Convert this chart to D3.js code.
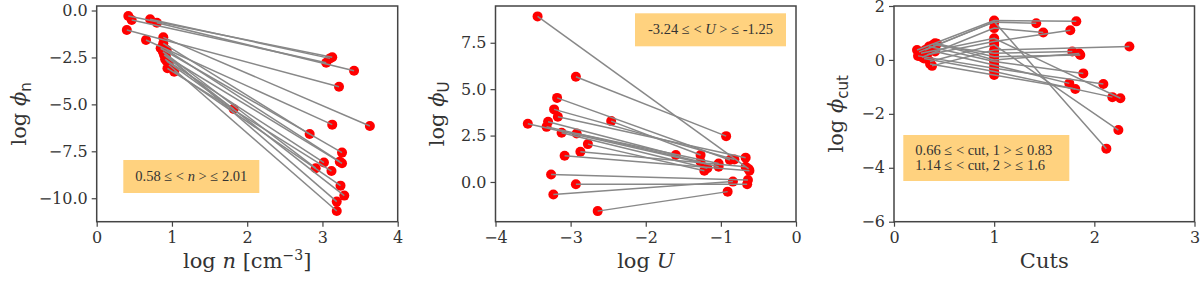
<!DOCTYPE html>
<meta charset="utf-8">
<script src="https://d3js.org/d3.v7.min.js"></script>
<style>
  body { margin: 0; background: #fff; }
  .tick text { font-family: "DejaVu Serif"; font-size: 16px; fill: #333; }
  .lab { font-family: "DejaVu Serif"; fill: #333; }
  .note { font-family: "Liberation Serif"; font-size: 14.5px; fill: #333; }
</style>
<svg id="chart" width="1200" height="281"></svg>
<script>
// panel 1: log n -> log phi_n  (start point, end point)
var nStart = [[0.42,-0.29],[0.465,-0.51],[0.71,-0.47],[0.80,-0.65],[0.40,-1.04],[0.655,-1.57],
  [0.885,-1.43],[0.885,-1.75],[0.85,-2.01],[0.93,-2.10],[0.895,-2.37],[0.91,-2.60],[0.94,-3.08],
  [1.03,-3.26],[0.90,-2.25],[0.92,-2.45],[0.88,-2.20],[0.96,-2.90],[0.93,-2.70]];
var nEnd = [[3.13,-2.49],[3.05,-2.78],[3.10,-2.55],[3.42,-3.21],[3.22,-4.06],[3.13,-6.08],
  [3.63,-6.15],[2.83,-6.58],[3.26,-7.57],[3.23,-8.05],[3.26,-8.14],[3.02,-8.10],[3.12,-8.55],
  [3.24,-9.33],[2.91,-8.40],[3.29,-9.86],[3.19,-10.18],[3.19,-10.68],[1.82,-5.25]];

// panel 2: log U -> log phi_U
var uStart = [[-3.44,8.92],[-2.93,5.67],[-3.18,4.53],[-3.22,3.91],[-3.17,3.51],[-2.46,3.28],
  [-3.57,3.14],[-3.30,3.24],[-3.32,2.97],[-3.12,2.65],[-2.92,2.61],[-2.77,2.04],[-2.87,1.63],
  [-3.08,1.41],[-3.26,0.40],[-2.93,-0.12],[-3.23,-0.67],[-2.64,-1.57]];
var uEnd = [[-0.63,0.70],[-0.93,2.47],[-0.88,1.18],[-0.82,1.21],[-0.67,1.31],[-1.27,1.45],
  [-1.03,0.82],[-1.60,1.45],[-1.27,1.09],[-1.18,0.74],[-1.03,1.00],[-1.22,0.61],[-0.67,0.82],
  [-0.62,0.61],[-0.64,0.11],[-0.65,-0.12],[-0.84,0.02],[-0.91,-0.52]];

// panel 3: cuts -> log phi_cut  (first cut, cut = 1, second cut)
var cutA = [[0.23,0.37],[0.25,0.30],[0.28,0.10],[0.31,0.37],[0.33,0.19],[0.36,-0.06],[0.38,-0.22],
  [0.39,0.56],[0.41,0.62],[0.43,0.60],[0.35,0.50],[0.41,0.31],[0.24,0.15],[0.30,0.05],[0.36,-0.15],[0.27,0.25]];
var cutB = [[1,1.46],[1,1.40],[1,1.18],[1,1.42],[1,0.68],[1,0.56],[1,0.37],[1,0.25],[1,0.12],
  [1,0.00],[1,-0.06],[1,-0.19],[1,-0.31],[1,-0.43],[1,-0.56],[1,0.80]];
var cutC = [[1.82,1.43],[1.42,1.36],[1.49,1.02],[2.12,-3.29],[1.76,1.10],[2.24,-2.60],[2.35,0.50],
  [1.78,0.31],[1.86,0.18],[1.85,0.24],[1.89,-0.50],[1.75,-0.87],[2.09,-0.89],[2.18,-1.38],[1.81,-1.08],[2.26,-1.42]];

var xTicks1 = [0, 1, 2, 3, 4], yTicks1 = [0, -2.5, -5, -7.5, -10];
var xTicks2 = [-4, -3, -2, -1, 0], yTicks2 = [0, 2.5, 5, 7.5];
var xTicks3 = [0, 1, 2, 3], yTicks3 = [2, 0, -2, -4, -6];

var svg = d3.select("#chart");
var yTop = 6, yBottom = 221.7;

var panels = [
  { x0: 96.7, x1: 397.7, xd: [0, 4], yd: [-11.25, 0.24], xt: xTicks1, yt: yTicks1, yf: d3.format(".1f"),
    lines: nStart.map(function (d, i) { return [d, nEnd[i]]; }),
    box: [123.3, 160, 136, 33], ylab: ["ϕ", "n"], ylx: 26, xlab: "n" },
  { x0: 495.5, x1: 796, xd: [-4, 0], yd: [-2.14, 9.48], xt: xTicks2, yt: yTicks2, yf: d3.format(".1f"),
    lines: uStart.map(function (d, i) { return [d, uEnd[i]]; }),
    box: [635, 13.3, 151, 33], ylab: ["ϕ", "U"], ylx: 444, xlab: "U" },
  { x0: 894, x1: 1194.5, xd: [0, 3], yd: [-6, 2], xt: xTicks3, yt: yTicks3, yf: d3.format("d"),
    lines: cutA.map(function (d, i) { return [d, cutB[i], cutC[i]]; }),
    box: [903.3, 135, 166, 46], ylab: ["ϕ", "cut"], ylx: 843, xlab: "Cuts" }
];

panels.forEach(function (p, k) {
  var x = d3.scaleLinear().domain(p.xd).range([p.x0, p.x1]);
  var y = d3.scaleLinear().domain(p.yd).range([yBottom, yTop]);
  var g = svg.append("g");

  // annotation box
  g.append("rect").attr("x", p.box[0]).attr("y", p.box[1]).attr("width", p.box[2]).attr("height", p.box[3])
    .attr("fill", "#ffd27f");

  // dots first, lines over them
  var pts = [].concat.apply([], p.lines);
  g.selectAll("circle").data(pts).enter().append("circle")
    .attr("cx", function (d) { return x(d[0]); })
    .attr("cy", function (d) { return y(d[1]); })
    .attr("r", 5).attr("fill", "#ff0000");
  var line = d3.line().x(function (d) { return x(d[0]); }).y(function (d) { return y(d[1]); });
  g.selectAll("path.l").data(p.lines).enter().append("path")
    .attr("class", "l").attr("d", line)
    .attr("fill", "none").attr("stroke", "#888").attr("stroke-width", 1.5);

  // axes
  var ax = g.append("g").attr("transform", "translate(0," + yBottom + ")")
    .call(d3.axisBottom(x).tickValues(p.xt).tickSize(5).tickPadding(5).tickFormat(d3.format("d")));
  var ay = g.append("g").attr("transform", "translate(" + p.x0 + ",0)")
    .call(d3.axisLeft(y).tickValues(p.yt).tickSize(5).tickPadding(4).tickFormat(p.yf));
  [ax, ay].forEach(function (a) {
    a.select(".domain").remove();
    a.selectAll("line").attr("stroke", "#444").attr("stroke-width", 1.2);
  });
  g.append("rect").attr("x", p.x0).attr("y", yTop).attr("width", p.x1 - p.x0).attr("height", yBottom - yTop)
    .attr("fill", "none").attr("stroke", "#444").attr("stroke-width", 1.5);

  // x label
  var xl = g.append("text").attr("class", "lab").attr("x", (p.x0 + p.x1) / 2).attr("y", 268)
    .attr("text-anchor", "middle").style("font-size", "21px");
  if (p.xlab === "Cuts") {
    xl.text("Cuts");
  } else {
    xl.append("tspan").text("log ");
    xl.append("tspan").style("font-style", "italic").text(p.xlab);
    if (p.xlab === "n") {
      xl.append("tspan").text(" [cm");
      xl.append("tspan").attr("dy", -8).style("font-size", "14px").text("−3");
      xl.append("tspan").attr("dy", 8).text("]");
    }
  }

  // y label
  var yl = g.append("text").attr("class", "lab")
    .attr("transform", "translate(" + p.ylx + "," + ((yTop + yBottom) / 2) + ") rotate(-90)")
    .attr("text-anchor", "middle").style("font-size", "21px");
  yl.append("tspan").text("log ");
  yl.append("tspan").style("font-style", "italic").text(p.ylab[0]);
  yl.append("tspan").attr("dy", 5).style("font-size", "15px").style("font-family", "DejaVu Sans").text(p.ylab[1]);

  // note text
  var bx = p.box[0] + p.box[2] / 2;
  if (k === 0) {
    var t = g.append("text").attr("class", "note").attr("x", bx).attr("y", p.box[1] + 21).attr("text-anchor", "middle");
    t.append("tspan").text("0.58 ≤ < ");
    t.append("tspan").style("font-style", "italic").text("n");
    t.append("tspan").text(" > ≤ 2.01");
  } else if (k === 1) {
    var t = g.append("text").attr("class", "note").attr("x", bx).attr("y", p.box[1] + 21).attr("text-anchor", "middle");
    t.append("tspan").text("-3.24  ≤  < ");
    t.append("tspan").style("font-style", "italic").text("U");
    t.append("tspan").text(" >  ≤  -1.25");
  } else {
    g.append("text").attr("class", "note").attr("x", p.box[0] + 12).attr("y", p.box[1] + 20).text("0.66  ≤  < cut, 1 >  ≤  0.83");
    g.append("text").attr("class", "note").attr("x", p.box[0] + 12).attr("y", p.box[1] + 35).text("1.14  ≤  < cut, 2 >  ≤  1.6");
  }
});
</script>
